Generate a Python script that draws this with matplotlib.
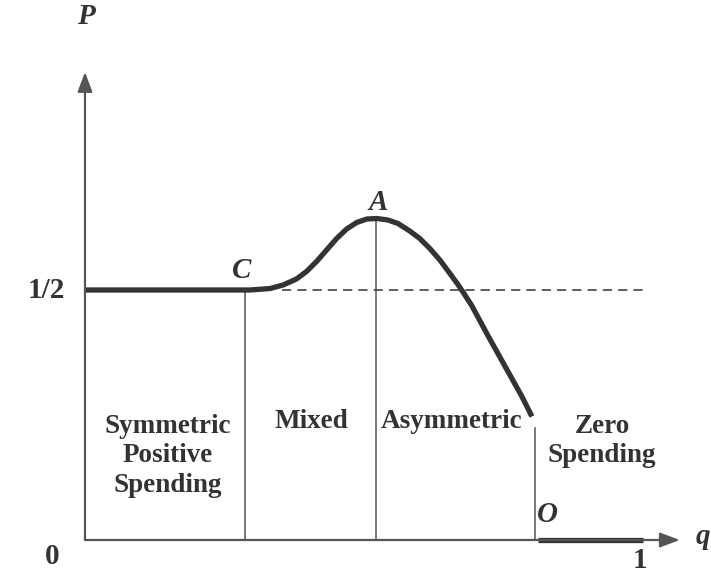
import matplotlib.pyplot as plt

# curve (q, P)
q_curve = [0.0, 0.296, 0.332, 0.355, 0.379, 0.397, 0.415, 0.433, 0.451,
           0.469, 0.487, 0.505, 0.523, 0.543, 0.561, 0.582, 0.600, 0.618,
           0.636, 0.654, 0.669, 0.678, 0.693, 0.723, 0.753, 0.783, 0.801]
p_curve = [0.5, 0.5, 0.503, 0.51, 0.522, 0.537, 0.557, 0.58, 0.603,
           0.622, 0.635, 0.642, 0.643, 0.64, 0.633, 0.618, 0.603, 0.583,
           0.56, 0.533, 0.51, 0.495, 0.469, 0.407, 0.347, 0.287, 0.247]

# regime boundaries
q_C, q_A, q_O = 0.287, 0.522, 0.806
p_A, p_O_top = 0.644, 0.225
q_zero = [0.812, 1.0]
p_zero = [0.0, 0.0]

regions = ["Symmetric\nPositive\nSpending", "Mixed", "Asymmetric", "Zero\nSpending"]
region_q = [0.148, 0.405, 0.657, 0.927]
region_p = [0.168, 0.238, 0.238, 0.198]

ink = "#333333"
axis_col = "#555555"
serif = "Liberation Serif"

fig = plt.figure(figsize=(7.11, 5.76), dpi=100)
ax = fig.add_axes([0, 0, 1, 1])
ax.set_xlim(-0.1523, 1.1219)
ax.set_ylim(-0.072, 1.08)
ax.axis("off")

# axes with arrows
arrow = dict(arrowstyle="-|>,head_length=1.2,head_width=0.45",
             color=axis_col, lw=1.6, shrinkA=0, shrinkB=0)
ax.annotate("", xy=(1.066, 0), xytext=(0, 0), arrowprops=arrow)
ax.annotate("", xy=(0, 0.936), xytext=(0, 0), arrowprops=arrow)

# regime separators
ax.plot([q_C, q_C], [0, 0.5], color=axis_col, lw=1.1)
ax.plot([q_A, q_A], [0, p_A], color=axis_col, lw=1.1)
ax.plot([q_O, q_O], [0, p_O_top], color=axis_col, lw=1.1)

# 1/2 reference
ax.plot([0.353, 1.0], [0.5, 0.5], color=ink, lw=1.1, dashes=(6, 4))

# main curve
ax.plot(q_curve, p_curve, color=ink, lw=3.8, solid_joinstyle="round",
        solid_capstyle="butt")
ax.plot(q_zero, p_zero, color=ink, lw=3.8, solid_capstyle="butt")

for txt, x, y in zip(regions, region_q, region_p):
    ax.text(x, y, txt, ha="center", va="center", family=serif,
            fontweight="bold", fontsize=19.5, color=ink, linespacing=1.22)

lab = dict(family=serif, fontweight="bold", fontsize=21, color=ink)
ax.text(0.002, 1.046, "P", ha="center", va="center", style="italic", **lab)
ax.text(1.108, 0.006, "q", ha="center", va="center", style="italic", **lab)
ax.text(-0.07, 0.5, "1/2", ha="center", va="center", **lab)
ax.text(-0.059, -0.034, "0", ha="center", va="center", **lab)
ax.text(0.995, -0.04, "1", ha="center", va="center", **lab)
ax.text(0.280, 0.54, "C", ha="center", va="center", style="italic", **lab)
ax.text(0.525, 0.675, "A", ha="center", va="center", style="italic", **lab)
ax.text(0.828, 0.05, "O", ha="center", va="center", style="italic", **lab)

fig.savefig("out.png", dpi=100)
